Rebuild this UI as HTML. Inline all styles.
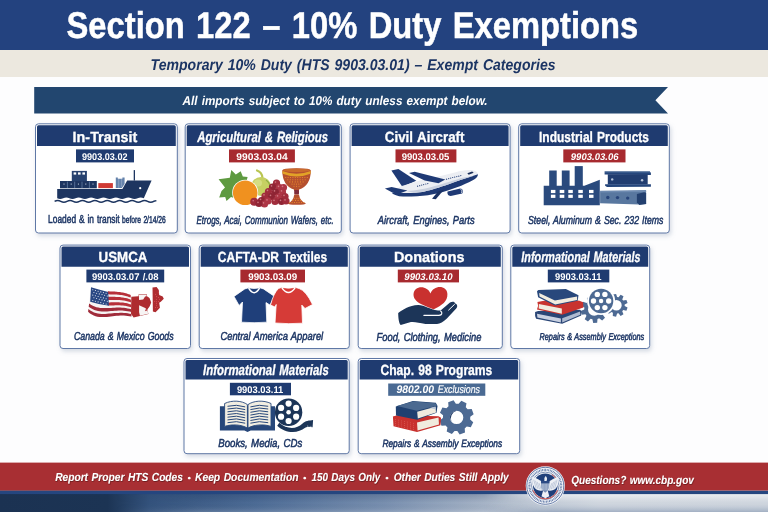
<!DOCTYPE html>
<html lang="en"><head><meta charset="utf-8"><title>Section 122 – 10% Duty Exemptions</title>
<style>
html,body{margin:0;padding:0;background:#fff;}
body{width:768px;height:512px;overflow:hidden;}
svg{display:block;font-family:"Liberation Sans",sans-serif;}
text{white-space:pre;word-spacing:0.07em;text-rendering:geometricPrecision;}
</style></head><body>
<svg width="768" height="512" viewBox="0 0 768 512">
<defs>
<filter id="sh" x="-10%" y="-10%" width="120%" height="130%"><feDropShadow dx="1.5" dy="2.5" stdDeviation="2.3" flood-color="#8896b0" flood-opacity="0.34"/></filter>
<filter id="ts" x="-5%" y="-20%" width="110%" height="160%"><feDropShadow dx="0.6" dy="1" stdDeviation="0.7" flood-color="#4a0e10" flood-opacity="0.6"/></filter>
<linearGradient id="fb" gradientUnits="userSpaceOnUse" x1="0" x2="768" y1="0" y2="0">
<stop offset="0" stop-color="#1b3252"/><stop offset="0.14" stop-color="#1c3454"/><stop offset="0.195" stop-color="#34537d"/><stop offset="0.333" stop-color="#4d6c96"/><stop offset="0.5" stop-color="#7990b0"/><stop offset="0.667" stop-color="#b4bfce"/><stop offset="0.78" stop-color="#ccd3dc"/><stop offset="1" stop-color="#cbd2db"/>
</linearGradient>
<linearGradient id="fvA" x1="0" x2="0" y1="0" y2="1"><stop offset="0" stop-color="#0a1e46" stop-opacity="0.2"/><stop offset="0.5" stop-color="#0a1e46" stop-opacity="0"/><stop offset="1" stop-color="#fff" stop-opacity="0.16"/></linearGradient>
<linearGradient id="fvB" x1="0" x2="0" y1="0" y2="1"><stop offset="0" stop-color="#fff" stop-opacity="0.6"/><stop offset="0.45" stop-color="#fff" stop-opacity="0.1"/><stop offset="1" stop-color="#4a6690" stop-opacity="0.32"/></linearGradient>
<linearGradient id="mA" gradientUnits="userSpaceOnUse" x1="0" x2="768" y1="0" y2="0"><stop offset="0.15" stop-color="#000"/><stop offset="0.26" stop-color="#fff"/><stop offset="0.62" stop-color="#fff"/><stop offset="0.70" stop-color="#000"/></linearGradient>
<linearGradient id="mB" gradientUnits="userSpaceOnUse" x1="0" x2="768" y1="0" y2="0"><stop offset="0.63" stop-color="#000"/><stop offset="0.72" stop-color="#fff"/></linearGradient>
<mask id="mkA" maskUnits="userSpaceOnUse" x="0" y="480" width="768" height="32"><rect x="0" y="480" width="768" height="32" fill="url(#mA)"/></mask>
<mask id="mkB" maskUnits="userSpaceOnUse" x="0" y="480" width="768" height="32"><rect x="0" y="480" width="768" height="32" fill="url(#mB)"/></mask>
</defs>
<rect width="768" height="512" fill="#fff"/>
<rect x="0" y="0" width="768" height="50" fill="#23427f"/>
<rect x="0" y="50" width="768" height="27" fill="#ece8df"/>
<rect x="0" y="77" width="768" height="385" fill="#fdfdfe"/>
<path d="M34.2 87 H668 L655.4 100.3 L668 113.5 H34.2 Z" fill="#22466f"/>

<text transform="translate(66.5 38.0) scale(0.8803 1)" font-size="37.2" font-weight="bold" font-style="normal" fill="#fff" stroke="#fff" stroke-width="0.5">Section 122 – 10% Duty Exemptions</text>
<text transform="translate(150.6 69.8) scale(0.9018 1)" font-size="15.6" font-weight="bold" font-style="italic" fill="#1c3564">Temporary 10% Duty (HTS 9903.03.01) – Exempt Categories</text>
<text transform="translate(182.6 104.8) scale(0.9157 1)" font-size="12.8" font-weight="bold" font-style="italic" fill="#fff">All imports subject to 10% duty unless exempt below.</text>
<rect x="35.5" y="123.8" width="141.8" height="109.2" rx="3" fill="#fff" stroke="#5f78a6" stroke-width="1" filter="url(#sh)"/>
<path d="M37.0 146.0 V126.8 Q37.0 125.3 38.5 125.3 H174.3 Q175.8 125.3 175.8 126.8 V146.0 Z" fill="#1f3b70"/>
<text transform="translate(72.6 141.5) scale(0.9772 1)" font-size="14.7" font-weight="bold" font-style="normal" fill="#fff" stroke="#fff" stroke-width="0.3">In-Transit</text>
<rect x="76.0" y="149.4" width="58.0" height="13.0" fill="#1f3b70"/>
<text transform="translate(82.0 159.7) scale(0.9381 1)" font-size="9.7" font-weight="bold" font-style="normal" fill="#fff">9903.03.02</text>
<g id="ship">
<path d="M57.2 188.9 H122.4 L127.2 180.4 H151.6 L143.8 198.2 Q140.7 196.6 137.6 198.2 T131.4 198.2 T125.2 198.2 T119 198.2 T112.8 198.2 T106.6 198.2 T100.4 198.2 T94.2 198.2 T88 198.2 T81.8 198.2 T75.6 198.2 T69.4 198.2 T63.2 198.2 T57.2 198.2 Z" fill="#1d3560"/>
<rect x="60" y="181" width="36.8" height="7.3" fill="#1d3560"/>
<path d="M67.4 181.6V188M74.7 181.6V188M82 181.6V188M89.4 181.6V188" stroke="#6f86ad" stroke-width="0.7"/>
<path d="M64 183.5v1.2M71.2 183.5v1.2M78.4 183.5v1.2M85.8 183.5v1.2M93 183.5v1.2" stroke="#dfe6f1" stroke-width="0.8"/>
<rect x="71.8" y="170.9" width="15.1" height="10.2" fill="#27426f"/>
<rect x="73.6" y="172.4" width="2.6" height="2.2" fill="#fff"/><rect x="78" y="172.4" width="2.6" height="2.2" fill="#fff"/><rect x="82.4" y="172.4" width="2.6" height="2.2" fill="#fff"/>
<rect x="98.3" y="183.1" width="14.6" height="5" fill="#cf3a34"/>
<path d="M115.8 188 V177.4 h2 v1.3 h4.6 v-1.3 h2.2 V184 L121.8 188Z" fill="#6482ab"/>
<path d="M118.7 179V188M121.6 179V187" stroke="#9fb3cf" stroke-width="0.6"/>
<rect x="133.7" y="170.1" width="1.3" height="10.5" fill="#1d3560"/>
<circle cx="140.2" cy="188.2" r="1.1" fill="#fff"/>
<path d="M54.6 201.3 Q57.7 199.5 60.8 201.3 T67 201.3 T73.2 201.3 T79.4 201.3 T85.6 201.3 T91.8 201.3 T98 201.3 T104.2 201.3 T110.4 201.3 T116.6 201.3 T122.8 201.3 T129 201.3 T135.2 201.3 T141.4 201.3 T147.6 201.3 T153.8 201.3 L156.4 200.6" fill="none" stroke="#1d3560" stroke-width="1.5"/>
</g>

<text transform="translate(48.1 222.6) scale(0.7223 1)" font-size="11.6" font-weight="normal" font-style="normal" fill="#1c3564" stroke="#1c3564" stroke-width="0.5">Loaded &amp; in transit</text>
<text transform="translate(122.0 222.6) scale(0.6717 1)" font-size="10" font-weight="normal" font-style="normal" fill="#1c3564" stroke="#1c3564" stroke-width="0.5">before 2/14/26</text>
<rect x="185.2" y="123.8" width="156.1" height="109.2" rx="3" fill="#fff" stroke="#5f78a6" stroke-width="1" filter="url(#sh)"/>
<path d="M186.7 146.0 V126.8 Q186.7 125.3 188.2 125.3 H338.3 Q339.8 125.3 339.8 126.8 V146.0 Z" fill="#1f3b70"/>
<text transform="translate(197.2 141.5) scale(0.7618 1)" font-size="14.9" font-weight="bold" font-style="italic" fill="#fff" stroke="#fff" stroke-width="0.3">Agricultural &amp; Religious</text>
<rect x="229.0" y="149.4" width="65.9" height="13.0" fill="#a72a2f"/>
<text transform="translate(236.3 159.7) scale(1.0577 1)" font-size="9.7" font-weight="bold" font-style="normal" fill="#fff">9903.03.04</text>
<g id="fruit">
<path d="M231.3 169.9 L235.8 174.6 L240.7 171.3 L242.8 176.5 L247.6 177 L246 183 L240 200 L231 197 L226.5 201 L225.2 197 L219.2 197.4 L221.5 191 L225 187.5 L218.6 179.2 L229.8 177.8 Z" fill="#5e9a40"/>
<path d="M257 170.5 Q262 172 262.5 178" fill="none" stroke="#b9c552" stroke-width="2.2" stroke-linecap="round"/>
<ellipse cx="261" cy="186.5" rx="10" ry="9.5" fill="#c6d062"/>
<ellipse cx="258" cy="183" rx="4" ry="3.5" fill="#dbe38e" opacity="0.7"/>
<path d="M266 180 Q270 183 270.5 188" fill="none" stroke="#8fae45" stroke-width="1.2"/>
<circle cx="245.2" cy="192.8" r="13" fill="#fff"/>
<circle cx="245.2" cy="192.8" r="12.3" fill="#f0911f"/>
<circle cx="276.5" cy="183.2" r="3.6" fill="#a02c3c"/>
<circle cx="272.5" cy="187" r="3.6" fill="#8f2434"/>
<circle cx="279.5" cy="187.5" r="3.6" fill="#ad3545"/>
<circle cx="268.5" cy="191.5" r="3.6" fill="#a02c3c"/>
<circle cx="275.5" cy="192" r="3.6" fill="#8f2434"/>
<circle cx="282.5" cy="192" r="3.6" fill="#ad3545"/>
<circle cx="265" cy="196" r="3.6" fill="#a02c3c"/>
<circle cx="271.5" cy="196.5" r="3.6" fill="#8f2434"/>
<circle cx="278.5" cy="197" r="3.6" fill="#ad3545"/>
<circle cx="285" cy="196.5" r="3.6" fill="#a02c3c"/>
<circle cx="261.5" cy="200.5" r="3.6" fill="#8f2434"/>
<circle cx="268" cy="201" r="3.6" fill="#ad3545"/>
<circle cx="275" cy="201.5" r="3.6" fill="#a02c3c"/>
<circle cx="281.5" cy="201.5" r="3.6" fill="#8f2434"/>
<circle cx="264.5" cy="204" r="3.6" fill="#ad3545"/>
<circle cx="254.2" cy="201.8" r="4.0" fill="#a02c3c"/>
<circle cx="259" cy="203.5" r="3.6" fill="#8f2434"/>
<circle cx="283.5" cy="187.5" r="3.6" fill="#ad3545"/>
<circle cx="286" cy="201" r="3.6" fill="#a02c3c"/>
<circle cx="275.5" cy="182.1" r="0.8" fill="#d98a92" opacity="0.8"/>
<circle cx="271.5" cy="185.9" r="0.8" fill="#d98a92" opacity="0.8"/>
<circle cx="278.5" cy="186.4" r="0.8" fill="#d98a92" opacity="0.8"/>
<circle cx="267.5" cy="190.4" r="0.8" fill="#d98a92" opacity="0.8"/>
<circle cx="274.5" cy="190.9" r="0.8" fill="#d98a92" opacity="0.8"/>
<circle cx="281.5" cy="190.9" r="0.8" fill="#d98a92" opacity="0.8"/>
<circle cx="264" cy="194.9" r="0.8" fill="#d98a92" opacity="0.8"/>
<circle cx="270.5" cy="195.4" r="0.8" fill="#d98a92" opacity="0.8"/>
<circle cx="277.5" cy="195.9" r="0.8" fill="#d98a92" opacity="0.8"/>
<circle cx="284" cy="195.4" r="0.8" fill="#d98a92" opacity="0.8"/>
<circle cx="260.5" cy="199.4" r="0.8" fill="#d98a92" opacity="0.8"/>
<circle cx="267" cy="199.9" r="0.8" fill="#d98a92" opacity="0.8"/>
<circle cx="274" cy="200.4" r="0.8" fill="#d98a92" opacity="0.8"/>
<circle cx="280.5" cy="200.4" r="0.8" fill="#d98a92" opacity="0.8"/>
<circle cx="263.5" cy="202.9" r="0.8" fill="#d98a92" opacity="0.8"/>
<circle cx="253.2" cy="200.70000000000002" r="0.8" fill="#d98a92" opacity="0.8"/>
<circle cx="258" cy="202.4" r="0.8" fill="#d98a92" opacity="0.8"/>
<circle cx="282.5" cy="186.4" r="0.8" fill="#d98a92" opacity="0.8"/>
<circle cx="285" cy="199.9" r="0.8" fill="#d98a92" opacity="0.8"/>
<path d="M282.2 170.5 Q282.2 168.2 296.5 168.2 Q310.9 168.2 310.9 170.5 Q310.5 186 299 189.6 L299 191 h-5 L294 189.6 Q282.6 186 282.2 170.5Z" fill="#b5502f"/>
<path d="M282.4 171 Q296.5 176.5 310.7 171 L310.5 173.8 Q296.5 179.3 282.6 173.8Z" fill="#e2a227"/>
<ellipse cx="296.5" cy="170.3" rx="13.4" ry="1.8" fill="#c96a2c"/>
<rect x="294.2" y="190" width="4.8" height="4.6" rx="1" fill="#7d2b3b"/>
<path d="M294.3 194.4 h4.6 Q300 201 305.8 203.2 Q305.8 204.8 296.7 204.8 Q287.9 204.8 287.9 203.2 Q293.4 201 294.3 194.4Z" fill="#b5502f"/>
<path d="M285.7 177.5h0.01M288.1 177.5h0.01M290.5 177.5h0.01M292.9 177.5h0.01M295.3 177.5h0.01M297.7 177.5h0.01M300.1 177.5h0.01M302.5 177.5h0.01M304.9 177.5h0.01M307.3 177.5h0.01M287.8 179.7h0.01M290.3 179.7h0.01M292.8 179.7h0.01M295.3 179.7h0.01M297.7 179.7h0.01M300.2 179.7h0.01M302.7 179.7h0.01M305.2 179.7h0.01M289.9 181.9h0.01M292.5 181.9h0.01M295.2 181.9h0.01M297.8 181.9h0.01M300.5 181.9h0.01M303.1 181.9h0.01M292.0 184.1h0.01M294.2 184.1h0.01M296.5 184.1h0.01M298.8 184.1h0.01M301.0 184.1h0.01M294.0 186.2h0.01M296.5 186.2h0.01M299.0 186.2h0.01M294.6 198.3h0.01M296.8 198.3h0.01M299.0 198.3h0.01M292.8 200.4h0.01M295.5 200.4h0.01M298.1 200.4h0.01M300.8 200.4h0.01M289.8 202.5h0.01M292.1 202.5h0.01M294.5 202.5h0.01M296.8 202.5h0.01M299.1 202.5h0.01M301.5 202.5h0.01M303.8 202.5h0.01" stroke="#ec8f2c" stroke-width="1.1" stroke-linecap="round"/>
</g>
<text transform="translate(196.5 223.9) scale(0.6946 1)" font-size="11.5" font-weight="normal" font-style="italic" fill="#1c3564" stroke="#1c3564" stroke-width="0.5">Etrogs, Acai, Communion Wafers, etc.</text>
<rect x="350.1" y="123.8" width="160.0" height="109.2" rx="3" fill="#fff" stroke="#5f78a6" stroke-width="1" filter="url(#sh)"/>
<path d="M351.6 146.0 V126.8 Q351.6 125.3 353.1 125.3 H507.1 Q508.6 125.3 508.6 126.8 V146.0 Z" fill="#1f3b70"/>
<text transform="translate(384.8 141.5) scale(0.9075 1)" font-size="14.7" font-weight="bold" font-style="normal" fill="#fff" stroke="#fff" stroke-width="0.3">Civil Aircraft</text>
<rect x="395.5" y="149.4" width="60.9" height="13.0" fill="#a72a2f"/>
<text transform="translate(401.7 159.7) scale(0.9835 1)" font-size="9.7" font-weight="bold" font-style="normal" fill="#fff">9903.03.05</text>
<g id="plane">
<path d="M391.4 170.5 L398.4 169.0 L416.3 180.8 L402.3 186.7Z" fill="#1f3a75"/>
<path d="M391.9 193.0L400.3 186.5L420.6 180.2L439.6 176.3L455.8 172.3C461.2 170.8 468.0 169.4 473.4 170.5C476.8 171.3 478.6 173.2 477.8 175.4C477.0 178.1 473.4 180.5 461.2 185.7L447.7 190.5C434.2 194.9 420.6 196.8 403.0 196.6C397.6 196.2 393.5 194.9 391.9 193.0Z" fill="#eceef3"/>
<path d="M391.9 193.0L413.9 193.0C424.7 192.2 436.9 188.6 461.2 179.7L478.0 174.3C477.8 178.1 473.4 180.5 461.2 185.7L447.7 190.5C434.2 194.9 420.6 196.8 403.0 196.6C397.6 196.2 393.5 194.9 391.9 193.0Z" fill="#1f3a75"/>
<path d="M413.9 193.0C424.7 192.2 436.9 188.6 461.2 179.7L474.8 175.4L461.2 178.1C436.9 185.7 424.7 190.0 407.1 191.1Z" fill="#c9d0de"/>
<path d="M384.9 188.5 L391.6 186.9 L407.4 190.4 L399.0 193.8 L392.7 192.7Z" fill="#1f3a75"/>
<path d="M409.0 172.9 L414.7 171.7 L445.3 179.6 L438.5 183.2 L424.7 180.5Z" fill="#1f3a75"/>
<path d="M438.0 191.6 L443.9 189.7 L435.8 199.2 L432.0 198.7Z" fill="#1a3163"/>
<path d="M447.7 191.6L460.2 188.4C462.9 188.4 463.7 191.8 462.1 193.5L450.7 196.1C447.7 196.0 446.9 193.0 447.7 191.6Z" fill="#1f3a75"/>
<path d="M460.4 189.2C462.1 189.5 462.3 191.9 461.5 193.0" fill="none" stroke="#dfe4ee" stroke-width="0.9"/>
<path d="M417.6 186.2h0.01M419.7 185.7h0.01M421.7 185.1h0.01M423.7 184.6h0.01M425.8 184.0h0.01M427.8 183.6h0.01M446.6 179.2h0.01M448.7 178.6h0.01M450.7 178.1h0.01M452.7 177.5h0.01M454.7 177.1h0.01M456.8 176.6h0.01M458.8 176.2h0.01M460.8 175.6h0.01" stroke="#1f3a75" stroke-width="1.2" stroke-linecap="round"/>
<path d="M467.3 173.2 L472.1 171.6 L473.7 172.7 L468.7 174.8Z" fill="#1a2e5a"/>
</g>
<text transform="translate(377.8 223.9) scale(0.8120 1)" font-size="11.5" font-weight="normal" font-style="italic" fill="#1c3564" stroke="#1c3564" stroke-width="0.5">Aircraft, Engines, Parts</text>
<rect x="518.7" y="123.8" width="150.6" height="109.2" rx="3" fill="#fff" stroke="#5f78a6" stroke-width="1" filter="url(#sh)"/>
<path d="M520.2 146.0 V126.8 Q520.2 125.3 521.7 125.3 H666.3 Q667.8 125.3 667.8 126.8 V146.0 Z" fill="#1f3b70"/>
<text transform="translate(539.0 141.5) scale(0.8156 1)" font-size="14.7" font-weight="bold" font-style="normal" fill="#fff" stroke="#fff" stroke-width="0.3">Industrial Products</text>
<rect x="563.3" y="149.4" width="62.2" height="13.0" fill="#a72a2f"/>
<text transform="translate(570.8 159.7) scale(0.9835 1)" font-size="9.7" font-weight="bold" font-style="italic" fill="#fff">9903.03.06</text>
<g id="factory">
<rect x="549.2" y="170.5" width="7.5" height="16.1" fill="#2a4a7d"/>
<rect x="561.8" y="170.5" width="7.8" height="16.1" fill="#2a4a7d"/>
<rect x="574.7" y="166.1" width="8.1" height="20.5" fill="#2a4a7d"/>
<path d="M543.7 185.8 L584.4 185.8 L599.8 179.7 L599.8 205.2 L543.7 205.2Z" fill="#2a4a7d"/>
<rect x="550.9" y="189.9" width="4.5" height="3.2" fill="#fff"/>
<rect x="550.9" y="194.7" width="4.5" height="3.2" fill="#fff"/>
<rect x="559.7" y="189.9" width="4.6" height="3.2" fill="#fff"/>
<rect x="559.7" y="194.7" width="4.6" height="3.2" fill="#fff"/>
<rect x="568.3" y="189.9" width="4.5" height="3.2" fill="#fff"/>
<rect x="568.3" y="194.7" width="4.5" height="3.2" fill="#fff"/>
<rect x="578.3" y="189.9" width="4.5" height="3.2" fill="#fff"/>
<rect x="578.3" y="194.7" width="4.5" height="3.2" fill="#fff"/>
<rect x="589.0" y="189.9" width="4.5" height="3.2" fill="#fff"/>
<rect x="589.0" y="194.7" width="4.5" height="3.2" fill="#fff"/>
<path d="M600.1 191.5 L639.3 190.7 L646.1 191.0 L646.1 203.9 L639.3 204.6 L600.1 203.3Z" fill="#58779f"/>
<path d="M600.1 190.7 L646.1 190.0 L646.1 192.0 L600.1 192.6Z" fill="#6d8ab0"/>
<path d="M636.9 193.9 L644.2 192.3 L646.1 193.1 L646.1 203.9 L639.3 204.9 L636.9 202.3Z" fill="#23406f"/>
<circle cx="607.8" cy="197.5" r="1.7" fill="#27447a"/>
<circle cx="617.5" cy="197.6" r="1.7" fill="#27447a"/>
<circle cx="627.7" cy="198.1" r="1.7" fill="#27447a"/>
<path d="M604.6 171.6 L649.8 171.6 L650.9 172.9 L650.9 174.9 L604.6 174.5Z" fill="#25467c"/>
<path d="M607.8 174.2 L647.7 174.2 L647.7 184.5 L607.8 184.5Z" fill="#213d70"/>
<path d="M605.1 184.2 L650.9 184.2 L650.9 186.8 L607.0 187.1 L605.1 185.8Z" fill="#25467c"/>
<path d="M604.6 171.6 L649.8 171.6 L650.3 172.4 L605.1 172.4Z" fill="#4d6c9a"/>
<circle cx="612.2" cy="179.4" r="1.2" fill="#b8c5da"/>
<circle cx="642.1" cy="180.3" r="1.2" fill="#b8c5da"/>
</g>
<text transform="translate(528.0 223.9) scale(0.7608 1)" font-size="11.5" font-weight="normal" font-style="italic" fill="#1c3564" stroke="#1c3564" stroke-width="0.5">Steel, Aluminum &amp; Sec. 232 Items</text>
<rect x="60.0" y="245.1" width="130.5" height="103.4" rx="3" fill="#fff" stroke="#5f78a6" stroke-width="1" filter="url(#sh)"/>
<path d="M61.5 266.8 V248.1 Q61.5 246.6 63.0 246.6 H187.5 Q189.0 246.6 189.0 248.1 V266.8 Z" fill="#1f3b70"/>
<text transform="translate(98.6 262.0) scale(0.9079 1)" font-size="14.7" font-weight="bold" font-style="normal" fill="#fff" stroke="#fff" stroke-width="0.3">USMCA</text>
<rect x="86.4" y="269.6" width="77.8" height="12.8" fill="#1f3b70"/>
<text transform="translate(92.0 279.7) scale(0.9777 1)" font-size="9.7" font-weight="bold" font-style="normal" fill="#fff">9903.03.07 /.08</text>
<g id="flags">
<path d="M91.0 287.2 L92.8 288.0 L94.5 288.7 L96.2 289.3 L97.9 289.8 L99.7 290.2 L101.4 290.5 L103.1 290.8 L104.9 291.0 L106.6 291.1 L108.3 291.3 L110.0 291.4 L111.8 291.5 L113.5 291.5 L115.2 291.6 L116.9 291.8 L118.7 291.9 L120.4 292.1 L122.1 292.4 L123.8 292.8 L125.6 293.2 L127.3 293.7 L129.0 294.3 L130.7 295.0 L131.5 316.6 L129.6 316.3 L127.7 316.0 L125.8 315.8 L123.9 315.6 L122.0 315.6 L120.2 315.6 L118.3 315.7 L116.4 315.8 L114.5 316.0 L112.6 316.2 L110.7 316.5 L108.8 316.7 L106.9 316.9 L105.1 317.0 L103.2 317.1 L101.3 317.1 L99.4 317.0 L97.5 316.7 L95.6 316.2 L93.7 315.5 L91.9 314.6 L90.0 313.4 L88.1 311.8Z" fill="#f6f3f3"/>
<path d="M107.9 291.2 L108.9 291.3 L109.9 291.4 L110.9 291.4 L111.9 291.5 L112.9 291.5 L113.8 291.6 L114.8 291.6 L115.8 291.7 L116.8 291.8 L117.8 291.9 L118.8 292.0 L119.8 292.1 L120.8 292.2 L121.8 292.4 L122.8 292.5 L123.8 292.7 L124.8 293.0 L125.8 293.2 L126.8 293.5 L127.8 293.9 L128.7 294.2 L129.7 294.6 L130.7 295.0 L130.8 297.6 L129.8 297.2 L128.8 296.9 L127.8 296.5 L126.8 296.2 L125.8 295.9 L124.8 295.7 L123.8 295.5 L122.8 295.3 L121.8 295.1 L120.9 295.0 L119.9 294.9 L118.9 294.8 L117.9 294.7 L116.9 294.6 L115.9 294.6 L114.9 294.5 L113.9 294.5 L112.9 294.5 L111.9 294.4 L110.9 294.4 L109.9 294.4 L108.9 294.3 L107.9 294.3Z" fill="#b7303a"/>
<path d="M107.9 296.7 L108.9 296.7 L109.9 296.8 L110.9 296.8 L111.9 296.8 L112.9 296.8 L113.9 296.8 L114.9 296.8 L115.9 296.9 L116.9 296.9 L117.9 297.0 L118.9 297.0 L119.9 297.1 L120.9 297.2 L121.9 297.4 L122.9 297.5 L123.9 297.7 L124.9 297.9 L125.9 298.1 L126.9 298.3 L127.9 298.6 L128.9 299.0 L129.9 299.3 L130.9 299.7 L131.0 302.5 L130.0 302.1 L129.0 301.8 L128.0 301.5 L127.0 301.2 L126.0 301.0 L125.0 300.8 L124.0 300.6 L123.0 300.4 L121.9 300.3 L120.9 300.2 L119.9 300.1 L118.9 300.1 L117.9 300.0 L116.9 300.0 L115.9 299.9 L114.9 299.9 L113.9 299.9 L112.9 299.9 L111.9 299.9 L110.9 300.0 L109.9 300.0 L108.9 300.0 L107.9 300.0Z" fill="#b7303a"/>
<path d="M107.9 302.4 L108.9 302.4 L109.9 302.4 L110.9 302.3 L111.9 302.3 L112.9 302.3 L113.9 302.3 L114.9 302.3 L115.9 302.2 L117.0 302.3 L118.0 302.3 L119.0 302.3 L120.0 302.4 L121.0 302.4 L122.0 302.5 L123.0 302.6 L124.0 302.8 L125.0 302.9 L126.0 303.1 L127.0 303.3 L128.0 303.6 L129.0 303.9 L130.1 304.2 L131.1 304.5 L131.2 307.3 L130.1 306.9 L129.1 306.7 L128.1 306.4 L127.1 306.2 L126.1 306.0 L125.1 305.8 L124.1 305.7 L123.1 305.6 L122.0 305.5 L121.0 305.4 L120.0 305.3 L119.0 305.3 L118.0 305.3 L117.0 305.3 L116.0 305.3 L115.0 305.3 L114.0 305.4 L112.9 305.4 L111.9 305.5 L110.9 305.5 L109.9 305.6 L108.9 305.6 L107.9 305.6Z" fill="#b7303a"/>
<path d="M89.1 303.6 L90.9 304.8 L92.8 305.8 L94.6 306.6 L96.4 307.2 L98.3 307.6 L100.1 307.9 L101.9 308.1 L103.7 308.1 L105.6 308.1 L107.4 308.1 L109.2 308.0 L111.1 307.9 L112.9 307.8 L114.7 307.7 L116.6 307.6 L118.4 307.6 L120.2 307.6 L122.1 307.7 L123.9 307.8 L125.7 308.1 L127.6 308.4 L129.4 308.8 L131.2 309.3 L131.3 312.0 L129.5 311.6 L127.6 311.2 L125.8 310.9 L123.9 310.7 L122.1 310.6 L120.2 310.6 L118.4 310.6 L116.5 310.7 L114.6 310.8 L112.8 310.9 L110.9 311.1 L109.1 311.2 L107.2 311.4 L105.4 311.4 L103.5 311.5 L101.7 311.4 L99.8 311.3 L98.0 311.0 L96.1 310.5 L94.3 309.9 L92.4 309.1 L90.6 308.0 L88.7 306.7Z" fill="#a02c3b"/>
<path d="M88.4 309.0 L90.3 310.4 L92.2 311.5 L94.0 312.4 L95.9 313.1 L97.8 313.5 L99.6 313.8 L101.5 313.9 L103.4 314.0 L105.2 313.9 L107.1 313.8 L109.0 313.6 L110.8 313.5 L112.7 313.3 L114.6 313.1 L116.4 313.0 L118.3 312.9 L120.2 312.8 L122.1 312.8 L123.9 312.9 L125.8 313.1 L127.7 313.3 L129.5 313.7 L131.4 314.1 L131.5 316.6 L129.6 316.3 L127.7 316.0 L125.8 315.8 L123.9 315.6 L122.0 315.6 L120.2 315.6 L118.3 315.7 L116.4 315.8 L114.5 316.0 L112.6 316.2 L110.7 316.5 L108.8 316.7 L106.9 316.9 L105.1 317.0 L103.2 317.1 L101.3 317.1 L99.4 317.0 L97.5 316.7 L95.6 316.2 L93.7 315.5 L91.9 314.6 L90.0 313.4 L88.1 311.8Z" fill="#a02c3b"/>
<path d="M91.0 287.3 L98.8 289.5 L108.2 291.9 L108.9 305.7 L98.8 303.9 L90.2 301.8Z" fill="#2a4883"/>
<path d="M92.8 289.8h0.01M95.4 290.5h0.01M98.1 291.2h0.01M100.8 291.9h0.01M103.4 292.6h0.01M106.1 293.3h0.01M93.9 292.5h0.01M96.6 293.2h0.01M99.3 293.9h0.01M102.0 294.6h0.01M104.6 295.3h0.01M107.3 296.0h0.01M92.8 295.1h0.01M95.4 295.8h0.01M98.1 296.5h0.01M100.8 297.2h0.01M103.4 297.9h0.01M106.1 298.7h0.01M93.9 297.8h0.01M96.6 298.5h0.01M99.3 299.2h0.01M102.0 299.9h0.01M104.6 300.6h0.01M107.3 301.3h0.01M92.8 300.5h0.01M95.4 301.2h0.01M98.1 301.9h0.01M100.8 302.6h0.01M103.4 303.3h0.01M106.1 304.0h0.01" stroke="#eef1f8" stroke-width="1.1" stroke-linecap="round"/>
<path d="M131.3 296.8 L138.4 296.2 L138.8 294.0 L146.6 294.0 L147.0 296.2 L149.5 298.1 L151.2 302.6 L149.7 306.3 L147.4 309.6 L148.4 314.1 L139.9 316.1 L133.6 317.5 L131.0 313.7Z" fill="#ae2b2f"/>
<path d="M138.8 294.4 L146.4 294.4 L146.7 296.2 L145.1 296.5 L143.2 299.6 L139.1 300.0Z" fill="#f7f4f4"/>
<path d="M139.1 305.2 L145.2 307.9 L146.7 309.4 L147.4 309.8 L148.2 313.8 L139.9 315.8 L139.1 312.2Z" fill="#f7f4f4"/>
<path d="M144.9 310.0 L146.6 308.9 L147.4 310.0 L145.8 311.3Z" fill="#ae2b2f"/>
<path d="M152.5 287.4 L156.6 287.0 L158.8 290.1 L159.2 295.1 L162.7 296.6 L163.8 298.8 L160.8 301.8 L159.2 302.7 L159.9 307.7 L157.8 310.1 L155.5 312.3 L152.9 311.5Z" fill="#ae2b2f"/>
<path d="M155.6 294.4h0.01M158.3 292.8h0.01M156.5 296.6h0.01M158.6 297.5h0.01M156.6 299.4h0.01M159.5 299.4h0.01M154.7 301.4h0.01M156.6 301.8h0.01M158.4 301.5h0.01M156.6 303.6h0.01M156.5 305.7h0.01M155.5 307.5h0.01M157.7 307.5h0.01" stroke="#e2585c" stroke-width="0.9" stroke-linecap="round"/>
</g>
<text transform="translate(73.9 340.0) scale(0.7654 1)" font-size="11.5" font-weight="normal" font-style="italic" fill="#1c3564" stroke="#1c3564" stroke-width="0.5">Canada &amp; Mexico Goods</text>
<rect x="199.2" y="245.1" width="150.1" height="103.4" rx="3" fill="#fff" stroke="#5f78a6" stroke-width="1" filter="url(#sh)"/>
<path d="M200.7 266.8 V248.1 Q200.7 246.6 202.2 246.6 H346.3 Q347.8 246.6 347.8 248.1 V266.8 Z" fill="#1f3b70"/>
<text transform="translate(217.8 262.0) scale(0.8187 1)" font-size="14.7" font-weight="bold" font-style="normal" fill="#fff" stroke="#fff" stroke-width="0.3">CAFTA-DR Textiles</text>
<rect x="240.4" y="269.6" width="64.6" height="12.8" fill="#a72a2f"/>
<text transform="translate(248.2 279.7) scale(1.0103 1)" font-size="9.7" font-weight="bold" font-style="normal" fill="#fff">9903.03.09</text>
<g id="shirts">
<path d="M244.8 288.9L248.5 287.8Q254.1 289.2 259.8 287.8L263.5 288.9L274.5 296.4L270.0 305.1L266.0 302.6L266.8 322.2Q254.1 323.2 241.5 322.2L242.5 302.0L239.1 305.5L234.0 296.4Z" fill="#1f3f7a" stroke="#fff" stroke-width="0.8"/>
<path d="M248.6 288.2Q254.1 297.2 259.6 288.2" fill="none" stroke="#fff" stroke-width="1.5"/>
<path d="M278.5 288.5L281.6 287.4Q288.5 288.9 295.4 287.4L299.1 288.5Q306.0 290.8 312.5 304.5L305.0 308.5L301.8 305.1L302.5 323.2Q288.5 324.2 275.0 323.0L276.2 304.5L275.0 307.0L270.5 305.1Q273.5 293.2 278.5 288.5Z" fill="#d63b37" stroke="#fff" stroke-width="0.8"/>
<path d="M281.9 287.9Q288.5 297.2 295.1 287.9" fill="none" stroke="#fff" stroke-width="1.5"/>
</g>
<text transform="translate(220.4 340.0) scale(0.8156 1)" font-size="11.5" font-weight="normal" font-style="italic" fill="#1c3564" stroke="#1c3564" stroke-width="0.5">Central America Apparel</text>
<rect x="358.2" y="245.1" width="144.1" height="103.4" rx="3" fill="#fff" stroke="#5f78a6" stroke-width="1" filter="url(#sh)"/>
<path d="M359.7 266.8 V248.1 Q359.7 246.6 361.2 246.6 H499.3 Q500.8 246.6 500.8 248.1 V266.8 Z" fill="#1f3b70"/>
<text transform="translate(393.9 262.0) scale(0.9831 1)" font-size="14.7" font-weight="bold" font-style="normal" fill="#fff" stroke="#fff" stroke-width="0.3">Donations</text>
<rect x="397.8" y="269.6" width="61.2" height="12.8" fill="#a72a2f"/>
<text transform="translate(404.3 279.7) scale(0.9938 1)" font-size="9.7" font-weight="bold" font-style="italic" fill="#fff">9903.03.10</text>
<g id="heart">
<path d="M430.5 293.5C427.6 285.1 414.0 284.6 413.5 294.5C413.5 302.8 425.5 306.0 433.8 309.3C442.2 304.9 447.6 301.8 447.4 294.0C446.9 284.6 433.3 285.1 430.5 293.5Z" fill="#c9312f"/>
<path d="M398.2 313.0C403.6 309.6 408.8 305.4 418.2 305.1C424.5 305.4 429.7 309.3 438.0 310.6L440.6 310.6L450.0 302.6C452.1 301.3 454.7 301.3 455.2 303.4C457.3 304.1 458.0 306.2 456.2 308.6L446.9 318.5C443.2 322.1 440.1 323.7 437.0 323.9L425.5 323.9C419.2 323.1 415.1 321.6 410.9 322.1L400.7 324.9C398.9 323.7 398.2 317.4 398.2 313.0Z" fill="#1c3558"/>
<path d="M423.9 315.4L439.0 315.4C442.2 315.1 442.7 312.7 440.6 311.0" fill="none" stroke="#fff" stroke-width="1.1" stroke-linecap="round"/>
<path d="M448.6 310.1L454.5 304.4" fill="none" stroke="#fff" stroke-width="1" stroke-linecap="round"/>
</g>
<text transform="translate(376.5 341.0) scale(0.8143 1)" font-size="11.5" font-weight="normal" font-style="italic" fill="#1c3564" stroke="#1c3564" stroke-width="0.5">Food, Clothing, Medicine</text>
<rect x="510.8" y="245.1" width="138.9" height="103.4" rx="3" fill="#fff" stroke="#5f78a6" stroke-width="1" filter="url(#sh)"/>
<path d="M512.3 266.8 V248.1 Q512.3 246.6 513.8 246.6 H646.7 Q648.2 246.6 648.2 248.1 V266.8 Z" fill="#1f3b70"/>
<text transform="translate(521.3 262.0) scale(0.7266 1)" font-size="14.9" font-weight="bold" font-style="italic" fill="#fff" stroke="#fff" stroke-width="0.3">Informational Materials</text>
<rect x="547.8" y="269.6" width="61.5" height="12.8" fill="#1f3b70"/>
<text transform="translate(555.1 279.7) scale(0.9676 1)" font-size="9.7" font-weight="bold" font-style="normal" fill="#fff">9903.03.11</text>
<g id="booksgear">
<path d="M604.07 307.92 L607.79 308.87 L607.39 312.82 L603.56 313.01 L602.78 314.64 L605.01 317.75 L602.17 320.52 L599.12 318.21 L597.47 318.95 L597.18 322.77 L593.22 323.06 L592.37 319.33 L590.63 318.84 L587.96 321.58 L584.73 319.26 L586.48 315.86 L585.46 314.36 L581.65 314.74 L580.67 310.89 L584.20 309.41 L584.38 307.60 L581.22 305.45 L582.94 301.87 L586.60 303.00 L587.90 301.74 L586.86 298.05 L590.48 296.42 L592.55 299.64 L594.36 299.50 L595.94 296.01 L599.76 297.09 L599.28 300.89 L600.75 301.94 L604.20 300.28 L606.44 303.57 L603.63 306.17Z M600.40 309.50 A6.2 6.2 0 1 0 588.00 309.50 A6.2 6.2 0 1 0 600.40 309.50Z" fill="#4d6a93" fill-rule="evenodd"/>
<path d="M624.67 306.06 L627.57 307.60 L626.42 310.73 L623.21 310.04 L622.24 311.19 L623.47 314.24 L620.59 315.90 L618.57 313.31 L617.09 313.57 L616.07 316.70 L612.79 316.11 L612.91 312.83 L611.61 312.08 L608.82 313.82 L606.68 311.26 L608.89 308.83 L608.37 307.41 L605.12 306.95 L605.12 303.62 L608.38 303.17 L608.89 301.76 L606.70 299.32 L608.84 296.77 L611.62 298.51 L612.93 297.76 L612.81 294.48 L616.09 293.90 L617.10 297.03 L618.58 297.29 L620.61 294.70 L623.49 296.37 L622.25 299.42 L623.22 300.57 L626.43 299.89 L627.57 303.02 L624.67 304.56Z M621.70 305.30 A5.3 5.3 0 1 0 611.10 305.30 A5.3 5.3 0 1 0 621.70 305.30Z" fill="#4d6a93" fill-rule="evenodd"/>
<circle cx="601.1" cy="301.0" r="14.0" fill="#fff"/><circle cx="601.1" cy="301.0" r="12.2" fill="#4d6a93"/><circle cx="604.90" cy="307.58" r="2.70" fill="#fff"/><circle cx="597.30" cy="307.58" r="2.70" fill="#fff"/><circle cx="593.50" cy="301.00" r="2.70" fill="#fff"/><circle cx="597.30" cy="294.42" r="2.70" fill="#fff"/><circle cx="604.90" cy="294.42" r="2.70" fill="#fff"/><circle cx="608.70" cy="301.00" r="2.70" fill="#fff"/><circle cx="601.1" cy="301.0" r="2.20" fill="#fff"/>
<path d="M535.1 312.1 L538.1 311.1 L580.1 309.8 L581.2 311.1 L581.2 315.6 L562.2 323.7 L536.1 318.8 L535.1 315.9Z" fill="#2a4676"/>
<path d="M537.0 313.8 L560.9 318.6 L560.9 322.4 L537.4 317.5Z" fill="#c9d1e1"/>
<path d="M562.2 318.3 L580.1 311.5 L580.4 314.8 L562.2 322.4Z" fill="#aebad0"/>
<path d="M537.4 302.0 L557.1 298.2 L579.4 300.7 L583.1 302.3 L583.4 307.5 L562.2 314.8 L537.0 309.4 L538.1 305.7Z" fill="#c8332f"/>
<path d="M538.9 303.9 L561.8 308.5 L561.8 313.7 L538.7 308.5Z" fill="#f1ecdf"/>
<path d="M537.0 291.2 L538.4 290.1 L565.9 289.0 L578.5 295.3 L577.7 300.7 L555.2 305.6 L553.8 305.0 L538.1 297.2Z" fill="#28487c"/>
<path d="M539.2 293.1 L554.9 300.4 L577.1 296.4 L577.1 300.1 L555.2 304.5 L539.5 296.6Z" fill="#f1ecdf"/>
</g>
<text transform="translate(539.5 340.0) scale(0.7299 1)" font-size="10" font-weight="normal" font-style="italic" fill="#1c3564" stroke="#1c3564" stroke-width="0.5">Repairs &amp; Assembly Exceptions</text>
<rect x="184.0" y="358.5" width="165.2" height="95.2" rx="3" fill="#fff" stroke="#5f78a6" stroke-width="1" filter="url(#sh)"/>
<path d="M185.5 379.6 V361.5 Q185.5 360.0 187.0 360.0 H346.2 Q347.7 360.0 347.7 361.5 V379.6 Z" fill="#1f3b70"/>
<text transform="translate(203.0 375.2) scale(0.7674 1)" font-size="14.9" font-weight="bold" font-style="italic" fill="#fff" stroke="#fff" stroke-width="0.3">Informational Materials</text>
<rect x="229.9" y="382.8" width="61.1" height="12.5" fill="#1f3b70"/>
<text transform="translate(236.9 393.0) scale(0.9676 1)" font-size="9.7" font-weight="bold" font-style="normal" fill="#fff">9903.03.11</text>
<g id="bookreel">
<path d="M219.9 406.3 L275.0 406.3 L275.0 430.4 L250.7 430.4 L247.5 432.1 L244.4 430.4 L219.9 430.4Z" fill="#27477a"/>
<path d="M224.6 403.5C232.1 399.9 242.1 400.6 247.4 404.6L247.4 428.1C242.1 424.7 232.1 423.8 224.6 426.4Z" fill="#f2eee2" stroke="#27477a" stroke-width="0.9"/>
<path d="M271.0 403.5C263.6 399.9 253.5 400.6 248.0 404.6L248.0 428.1C253.5 424.7 263.6 423.8 271.0 426.4Z" fill="#f2eee2" stroke="#27477a" stroke-width="0.9"/>
<path d="M227.5 406.3Q236.4 404.0 245.2 406.9M268.2 406.3Q259.3 404.0 250.4 406.9M227.5 409.0Q236.4 406.8 245.2 409.6M268.2 409.0Q259.3 406.8 250.4 409.6M227.5 411.8Q236.4 409.5 245.2 412.3M268.2 411.8Q259.3 409.5 250.4 412.3M227.5 414.5Q236.4 412.2 245.2 415.1M268.2 414.5Q259.3 412.2 250.4 415.1M227.5 417.2Q236.4 414.9 245.2 417.8M268.2 417.2Q259.3 414.9 250.4 417.8M227.5 419.9Q236.4 417.6 245.2 420.5M268.2 419.9Q259.3 417.6 250.4 420.5M227.5 422.7Q236.4 420.4 245.2 423.2M268.2 422.7Q259.3 420.4 250.4 423.2" fill="none" stroke="#27477a" stroke-width="1"/>
<path d="M279.3 422.8C286.5 429.5 296.5 429.5 302.3 423.8C305.1 420.7 309.4 420.7 313.1 420.1L312.6 427.2C309.4 426.4 307.3 426.4 305.1 427.8C298.0 433.8 285.1 433.5 277.2 425.7Z" fill="#1c3558"/>
<path d="M307.7 426.1h0.01M310.9 426.4h0.01" stroke="#dfe5ef" stroke-width="0.9" stroke-linecap="round"/>
<circle cx="288.6" cy="412.3" r="13.7" fill="#1c3558"/><circle cx="288.60" cy="421.00" r="3.10" fill="#fff"/><circle cx="281.07" cy="416.65" r="3.10" fill="#fff"/><circle cx="281.07" cy="407.95" r="3.10" fill="#fff"/><circle cx="288.60" cy="403.60" r="3.10" fill="#fff"/><circle cx="296.13" cy="407.95" r="3.10" fill="#fff"/><circle cx="296.13" cy="416.65" r="3.10" fill="#fff"/><circle cx="288.6" cy="412.3" r="2.30" fill="#fff"/>
</g>
<text transform="translate(218.2 446.6) scale(0.8406 1)" font-size="11.5" font-weight="normal" font-style="italic" fill="#1c3564" stroke="#1c3564" stroke-width="0.5">Books, Media, CDs</text>
<rect x="358.2" y="358.5" width="161.5" height="95.2" rx="3" fill="#fff" stroke="#5f78a6" stroke-width="1" filter="url(#sh)"/>
<path d="M359.7 379.6 V361.5 Q359.7 360.0 361.2 360.0 H516.7 Q518.2 360.0 518.2 361.5 V379.6 Z" fill="#1f3b70"/>
<text transform="translate(380.4 375.2) scale(0.8232 1)" font-size="14.7" font-weight="bold" font-style="normal" fill="#fff" stroke="#fff" stroke-width="0.3">Chap. 98 Programs</text>
<rect x="388.2" y="383.5" width="97.1" height="12.3" fill="#4a6a93"/>
<text transform="translate(396.4 393.4) scale(0.9455 1)" font-size="11" font-weight="bold" font-style="italic" fill="#fff">9802.00</text>
<text transform="translate(437.8 393.4) scale(0.8026 1)" font-size="11" font-weight="normal" font-style="italic" fill="#fff" stroke="#fff" stroke-width="0.2">Exclusions</text>
<g id="booksgear2">
<path d="M470.14 419.48 L473.24 422.14 L470.80 427.28 L466.78 426.57 L464.71 428.44 L465.01 432.52 L459.66 434.43 L457.31 431.08 L454.52 430.94 L451.86 434.04 L446.72 431.60 L447.43 427.58 L445.56 425.51 L441.48 425.81 L439.57 420.46 L442.92 418.11 L443.06 415.32 L439.96 412.66 L442.40 407.52 L446.42 408.23 L448.49 406.36 L448.19 402.28 L453.54 400.37 L455.89 403.72 L458.68 403.86 L461.34 400.76 L466.48 403.20 L465.77 407.22 L467.64 409.29 L471.72 408.99 L473.63 414.34 L470.28 416.69Z M463.30 417.40 A6.7 6.7 0 1 0 449.90 417.40 A6.7 6.7 0 1 0 463.30 417.40Z" fill="#4d6a93" fill-rule="evenodd"/>
<path d="M449.9 417.4 A6.7 6.7 0 0 1 456.6 410.7 A8 8 0 0 0 451.4 421.4Z" fill="#1f3a66"/>
<path d="M392.9 416.5 L397.2 415.2 L438.5 416.2 L441.0 417.8 L440.5 425.2 L417.0 432.0 L393.5 426.2Z" fill="#c8312e"/>
<path d="M417.0 422.5 L438.5 417.5 L439.0 424.5 L417.5 430.5Z" fill="#f0ebde"/>
<path d="M395.4 419.6h0.01M398.4 420.2h0.01M401.4 420.9h0.01M404.4 421.5h0.01M407.4 422.1h0.01M410.4 422.8h0.01M413.4 423.4h0.01M395.4 421.6h0.01M398.4 422.2h0.01M401.4 422.9h0.01M404.4 423.5h0.01M407.4 424.1h0.01M410.4 424.8h0.01M413.4 425.4h0.01M395.4 423.6h0.01M398.4 424.2h0.01M401.4 424.9h0.01M404.4 425.5h0.01M407.4 426.1h0.01M410.4 426.8h0.01M413.4 427.4h0.01M395.4 425.6h0.01M398.4 426.2h0.01M401.4 426.9h0.01M404.4 427.5h0.01M407.4 428.1h0.01M410.4 428.8h0.01M413.4 429.4h0.01" stroke="#e06a62" stroke-width="0.7" stroke-linecap="round"/>
<path d="M395.8 406.5 L412.9 401.0 L435.8 402.8 L437.5 406.0 L436.5 412.8 L417.2 419.8 L396.0 415.5Z" fill="#1f4070"/>
<path d="M397.0 406.0 L413.0 401.5 L435.5 403.2 L436.8 405.8 L416.8 410.8Z" fill="#4b6990"/>
<path d="M417.2 411.8 L435.5 406.8 L436.0 412.5 L417.8 418.5Z" fill="#f0ebde"/>
<path d="M429.8 408.0 L435.5 406.5 L435.8 409.6Z" fill="#b9c4d6"/>
</g>
<text transform="translate(382.4 446.6) scale(0.7953 1)" font-size="10.5" font-weight="normal" font-style="italic" fill="#1c3564" stroke="#1c3564" stroke-width="0.5">Repairs &amp; Assembly Exceptions</text>
<rect x="0" y="462.6" width="768" height="28.2" fill="#a82f33"/>
<rect x="0" y="490.8" width="768" height="21.2" fill="url(#fb)"/>
<rect x="0" y="494" width="768" height="18" fill="url(#fvA)" mask="url(#mkA)"/>
<rect x="0" y="494" width="768" height="18" fill="url(#fvB)" mask="url(#mkB)"/>
<rect x="0" y="490.8" width="768" height="3.3" fill="#25467f"/>

<text transform="translate(55.2 481.1) scale(0.8628 1)" font-size="11.8" font-weight="bold" font-style="italic" fill="#fff" filter="url(#ts)">Report Proper HTS Codes</text>
<text transform="translate(187.5 481.3) scale(1.1089 1)" font-size="9" font-weight="bold" font-style="normal" fill="#fff">•</text>
<text transform="translate(195.0 481.1) scale(0.8711 1)" font-size="11.8" font-weight="bold" font-style="italic" fill="#fff" filter="url(#ts)">Keep Documentation</text>
<text transform="translate(303.0 481.3) scale(1.1089 1)" font-size="9" font-weight="bold" font-style="normal" fill="#fff">•</text>
<text transform="translate(311.5 481.1) scale(0.8346 1)" font-size="11.8" font-weight="bold" font-style="italic" fill="#fff" filter="url(#ts)">150 Days Only</text>
<text transform="translate(385.3 481.3) scale(1.1089 1)" font-size="9" font-weight="bold" font-style="normal" fill="#fff">•</text>
<text transform="translate(393.7 481.1) scale(0.8595 1)" font-size="11.8" font-weight="bold" font-style="italic" fill="#fff" filter="url(#ts)">Other Duties Still Apply</text>
<text transform="translate(571.3 484.0) scale(0.8472 1)" font-size="11.8" font-weight="bold" font-style="italic" fill="#fff" filter="url(#ts)">Questions? www.cbp.gov</text>
<g id="seal">
<circle cx="545.3" cy="485.8" r="19.6" fill="#f3f5f9"/>
<circle cx="545.3" cy="485.8" r="18.5" fill="none" stroke="#2c4b86" stroke-width="0.7"/>
<circle cx="545.3" cy="485.8" r="15.9" fill="none" stroke="#3d5c94" stroke-width="2.1" stroke-dasharray="0.8 0.75" opacity="0.85"/>
<circle cx="545.3" cy="485.8" r="13.7" fill="#fff" stroke="#2c4b86" stroke-width="0.6"/>
<circle cx="545.3" cy="485.8" r="12.3" fill="#1f3f7a"/>
<path d="M557.52 490.25 A13 13 0 0 1 533.08 490.25" fill="none" stroke="#c9362f" stroke-width="0.9"/>
<path d="M551.80 474.54 A13 13 0 0 1 557.08 480.31" fill="none" stroke="#c9362f" stroke-width="0.8"/>
<path d="M532.5 476.4C535.6 478.1 541.0 480.0 543.5 483.0L543.9 489.8C541.0 491.8 537.1 490.3 534.7 487.9C532.2 484.4 531.5 480.0 532.5 476.4Z" fill="#eef1f6"/>
<path d="M558.3 476.4C555.2 478.1 549.8 480.0 547.4 483.0L546.9 489.8C549.8 491.8 553.7 490.3 556.2 487.9C558.6 484.4 559.3 480.0 558.3 476.4Z" fill="#eef1f6"/>
<path d="M533.7 479.6L536.1 488.3M557.1 479.6L554.7 488.3M535.4 480.7L537.9 488.8M555.4 480.7L552.9 488.8M537.2 481.9L539.6 489.3M553.6 481.9L551.2 489.3M539.0 483.1L541.4 489.8M551.9 483.1L549.4 489.8" stroke="#8a9cbd" stroke-width="0.45" fill="none"/>
<path d="M543.5 489.3 L547.4 489.3 L549.3 496.2 L545.4 498.3 L541.5 496.2Z" fill="#eef1f6"/>
<path d="M541.0 481.0L549.5 481.0L549.1 487.9Q547.4 491.3 545.2 492.7Q543.1 491.3 541.3 487.9Z" fill="#7a90b5"/>
<path d="M542.3 483.5L542.3 490.3M543.8 483.5L543.8 490.3M545.2 483.5L545.2 490.3M546.7 483.5L546.7 490.3M548.2 483.5L548.2 490.3" stroke="#dfe5ef" stroke-width="0.5" fill="none"/>
<path d="M541.0 481.0 L549.5 481.0 L549.4 483.3 L541.1 483.3Z" fill="#2b4a84"/>
<path d="M544.4 481.0Q543.5 478.1 545.6 476.1Q547.9 478.1 546.6 481.0Z" fill="#e8ecf3"/>
</g>
</svg></body></html>
